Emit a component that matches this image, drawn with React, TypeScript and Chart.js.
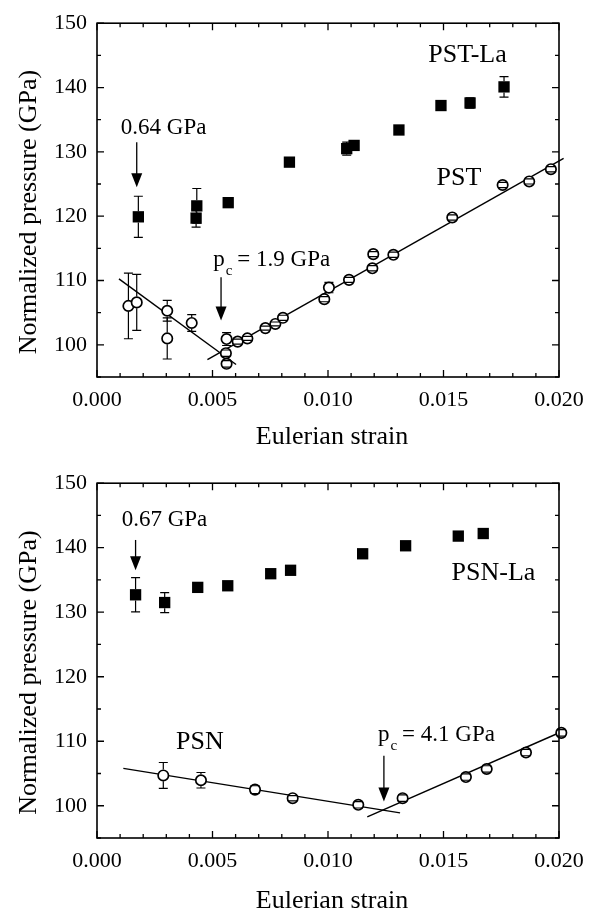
import React, { useEffect, useRef } from 'react';
import { Chart, registerables } from 'chart.js';

Chart.register(...registerables);

const FONT = '"Liberation Serif", "Times New Roman", Times, serif';

// ---- axes ----
const xMin = 0;
const xMax = 0.02;
const yMin = 95;
const yMax = 150;
const xTicks = [0, 0.005, 0.01, 0.015, 0.02];
const yTicks = [100, 110, 120, 130, 140, 150];
const xMinorStep = 0.001;
const yMinorStep = 5;
const xTitle = 'Eulerian strain';
const yTitle = 'Normalized pressure (GPa)';

// ---- top panel: PST-La (filled squares) ----
const pstLaX = [0.00179, 0.00429, 0.00432, 0.00568, 0.00833, 0.01081, 0.01113, 0.01307, 0.01489, 0.01615, 0.01762];
const pstLaY = [119.9, 119.7, 121.6, 122.1, 128.4, 130.5, 131.0, 133.4, 137.2, 137.6, 140.1];
const pstLaErr = [3.2, 1.4, 2.7, 0.5, 0.3, 1.0, 0.5, 0.6, 0.6, 0.8, 1.6];

// ---- top panel: PST (open circles) ----
const pstX = [0.00136, 0.00172, 0.00304, 0.00304, 0.0041, 0.00561, 0.00558, 0.00561, 0.00609, 0.00651, 0.00729, 0.00772, 0.00805, 0.00984, 0.01004, 0.01091, 0.01192, 0.01196, 0.01283, 0.01538, 0.01756, 0.01871, 0.01965];
const pstY = [106.05, 106.6, 105.3, 101.0, 103.4, 100.9, 98.7, 97.05, 100.5, 101.0, 102.6, 103.25, 104.2, 107.1, 108.9, 110.1, 111.9, 114.1, 114.0, 119.8, 124.85, 125.4, 127.3];
const pstErr = [5.1, 4.35, 1.6, 3.2, 1.3, 1.0, 0.5, 0.5, 0.4, 0.3, 0.3, 0.3, 0.4, 0.4, 0.8, 0.4, 0.4, 0.4, 0.4, 0.4, 0.4, 0.4, 0.4];

// ---- top panel fit lines ----
const pstFit1X = [0.00095, 0.00602];
const pstFit1Y = [110.26, 96.95];
const pstFit2X = [0.00478, 0.0202];
const pstFit2Y = [97.7, 129.0];

// ---- bottom panel: PSN-La (filled squares) ----
const psnLaX = [0.00167, 0.00293, 0.00436, 0.00566, 0.00752, 0.00838, 0.0115, 0.01336, 0.01564, 0.01672];
const psnLaY = [132.7, 131.5, 133.85, 134.1, 135.97, 136.5, 139.06, 140.3, 141.8, 142.2];
const psnLaErr = [2.65, 1.55, 0.7, 0.5, 0.3, 0.3, 0.3, 0.3, 0.3, 0.3];

// ---- bottom panel: PSN (open circles) ----
const psnX = [0.00287, 0.0045, 0.00684, 0.00847, 0.01131, 0.01323, 0.01597, 0.01687, 0.01857, 0.0201];
const psnY = [104.7, 103.95, 102.5, 101.17, 100.15, 101.17, 104.45, 105.7, 108.25, 111.3];
const psnErr = [2.0, 1.2, 0.6, 0.4, 0.5, 0.5, 0.5, 0.5, 0.5, 0.5];

// ---- bottom panel fit lines ----
const psnFit1X = [0.00114, 0.01312];
const psnFit1Y = [105.8, 98.9];
const psnFit2X = [0.0117, 0.02016];
const psnFit2Y = [98.28, 111.55];

type Txt = { text: string; x: number; y: number; size: number };
type Arrow = { x: number; y1: number; y2: number };
type Pc = { rest: string; x: number; y: number };
type Spec = {
  height: number;
  padTop: number;
  plotBottom: number;
  sqX: number[]; sqY: number[]; sqE: number[];
  ciX: number[]; ciY: number[]; ciE: number[];
  fits: [number[], number[]][];
  texts: Txt[];
  arrows: Arrow[];
  pc: Pc;
  xTitleOffset: number;
};

const topSpec: Spec = {
  height: 460,
  padTop: 16,
  plotBottom: 377,
  sqX: pstLaX, sqY: pstLaY, sqE: pstLaErr,
  ciX: pstX, ciY: pstY, ciE: pstErr,
  fits: [[pstFit1X, pstFit1Y], [pstFit2X, pstFit2Y]],
  texts: [
    { text: '0.64 GPa', x: 0.00103, y: 132.7, size: 23 },
    { text: 'PST-La', x: 0.01434, y: 143.9, size: 26 },
    { text: 'PST', x: 0.0147, y: 124.85, size: 26 },
  ],
  arrows: [
    { x: 0.00172, y1: 131.5, y2: 124.5 },
    { x: 0.00537, y1: 110.5, y2: 103.8 },
  ],
  pc: { rest: '= 1.9 GPa', x: 0.00503, y: 112.2 },
  xTitleOffset: 67,
};

const bottomSpec: Spec = {
  height: 453,
  padTop: 17,
  plotBottom: 378,
  sqX: psnLaX, sqY: psnLaY, sqE: psnLaErr,
  ciX: psnX, ciY: psnY, ciE: psnErr,
  fits: [[psnFit1X, psnFit1Y], [psnFit2X, psnFit2Y]],
  texts: [
    { text: '0.67 GPa', x: 0.00107, y: 143.36, size: 23 },
    { text: 'PSN-La', x: 0.01535, y: 134.95, size: 26 },
    { text: 'PSN', x: 0.00342, y: 108.77, size: 26 },
  ],
  arrows: [
    { x: 0.00167, y1: 141.2, y2: 136.5 },
    { x: 0.01242, y1: 107.75, y2: 100.65 },
  ],
  pc: { rest: '= 4.1 GPa', x: 0.01216, y: 110.03 },
  xTitleOffset: 70,
};

const pts = (xs: number[], ys: number[]) => xs.map((x, i) => ({ x, y: ys[i] }));

function makeDecor(spec: Spec) {
  return {
    id: 'decor',
    afterDatasetsDraw(chart: any) {
      const ctx: CanvasRenderingContext2D = chart.ctx;
      const xs = chart.scales.x;
      const ys = chart.scales.y;
      const ca = chart.chartArea;
      ctx.save();
      ctx.strokeStyle = '#000';
      ctx.fillStyle = '#000';

      // error bars (not through symbol)
      const drawErr = (X: number[], Y: number[], E: number[], r: number) => {
        ctx.lineWidth = 1.2;
        X.forEach((xv, i) => {
          const px = xs.getPixelForValue(xv);
          const py = ys.getPixelForValue(Y[i]);
          const top = ys.getPixelForValue(Y[i] + E[i]);
          const bot = ys.getPixelForValue(Y[i] - E[i]);
          ctx.beginPath();
          if (top < py - r) { ctx.moveTo(px, py - r); ctx.lineTo(px, top); }
          if (bot > py + r) { ctx.moveTo(px, py + r); ctx.lineTo(px, bot); }
          ctx.moveTo(px - 4.5, top); ctx.lineTo(px + 4.5, top);
          ctx.moveTo(px - 4.5, bot); ctx.lineTo(px + 4.5, bot);
          ctx.stroke();
        });
      };
      drawErr(spec.sqX, spec.sqY, spec.sqE, 5.6);
      drawErr(spec.ciX, spec.ciY, spec.ciE, 5.9);

      // frame
      ctx.lineWidth = 1.6;
      ctx.strokeRect(ca.left, ca.top, ca.right - ca.left, ca.bottom - ca.top);

      // inward ticks
      ctx.lineWidth = 1.3;
      ctx.beginPath();
      const nx = Math.round((xMax - xMin) / xMinorStep);
      for (let i = 0; i <= nx; i++) {
        const v = xMin + i * xMinorStep;
        const major = xTicks.some((t) => Math.abs(t - v) < 1e-9);
        const len = major ? 7 : 4;
        const px = xs.getPixelForValue(v);
        ctx.moveTo(px, ca.bottom); ctx.lineTo(px, ca.bottom - len);
        ctx.moveTo(px, ca.top); ctx.lineTo(px, ca.top + len);
      }
      const ny = Math.round((yMax - yMin) / yMinorStep);
      for (let i = 0; i <= ny; i++) {
        const v = yMin + i * yMinorStep;
        const major = yTicks.some((t) => Math.abs(t - v) < 1e-9);
        const len = major ? 7 : 4;
        const py = ys.getPixelForValue(v);
        ctx.moveTo(ca.left, py); ctx.lineTo(ca.left + len, py);
        ctx.moveTo(ca.right, py); ctx.lineTo(ca.right - len, py);
      }
      ctx.stroke();

      // arrows
      spec.arrows.forEach((a) => {
        const px = xs.getPixelForValue(a.x);
        const p1 = ys.getPixelForValue(a.y1);
        const p2 = ys.getPixelForValue(a.y2);
        ctx.lineWidth = 1.3;
        ctx.beginPath();
        ctx.moveTo(px, p1); ctx.lineTo(px, p2 - 12);
        ctx.stroke();
        ctx.beginPath();
        ctx.moveTo(px - 5.5, p2 - 14);
        ctx.lineTo(px + 5.5, p2 - 14);
        ctx.lineTo(px, p2);
        ctx.closePath();
        ctx.fill();
      });

      // text annotations
      ctx.textAlign = 'left';
      ctx.textBaseline = 'alphabetic';
      spec.texts.forEach((t) => {
        ctx.font = `${t.size}px ${FONT}`;
        ctx.fillText(t.text, xs.getPixelForValue(t.x), ys.getPixelForValue(t.y));
      });
      // p_c label
      const px = xs.getPixelForValue(spec.pc.x);
      const py = ys.getPixelForValue(spec.pc.y);
      ctx.font = `23px ${FONT}`;
      ctx.fillText('p', px, py);
      const wp = ctx.measureText('p').width;
      ctx.font = `15px ${FONT}`;
      ctx.fillText('c', px + wp + 1, py + 9);
      const wc = ctx.measureText('c').width;
      ctx.font = `23px ${FONT}`;
      ctx.fillText(spec.pc.rest, px + wp + wc + 6, py);

      // axis titles
      ctx.font = `26px ${FONT}`;
      ctx.textAlign = 'center';
      ctx.fillText(xTitle, (ca.left + ca.right) / 2 + 4, ca.bottom + spec.xTitleOffset);
      ctx.save();
      ctx.translate(36, (ca.top + ca.bottom) / 2 + 12);
      ctx.rotate(-Math.PI / 2);
      ctx.fillText(yTitle, 0, 0);
      ctx.restore();

      ctx.restore();
    },
  };
}

function Panel({ spec }: { spec: Spec }) {
  const ref = useRef<HTMLCanvasElement | null>(null);
  useEffect(() => {
    if (!ref.current) return;
    const datasets: any[] = [
      {
        label: 'circles',
        data: pts(spec.ciX, spec.ciY),
        pointStyle: 'circle',
        pointRadius: 5.2,
        backgroundColor: '#fff',
        borderColor: '#000',
        borderWidth: 1.7,
        showLine: false,
        clip: false,
        order: 1,
      },
      {
        label: 'squares',
        data: pts(spec.sqX, spec.sqY),
        pointStyle: 'rect',
        pointRadius: 8,
        backgroundColor: '#000',
        borderColor: '#000',
        borderWidth: 0,
        showLine: false,
        clip: false,
        order: 2,
      },
      ...spec.fits.map(([fx, fy], i) => ({
        label: 'fit' + i,
        data: pts(fx, fy),
        showLine: true,
        pointRadius: 0,
        borderColor: '#000',
        borderWidth: 1.4,
        fill: false,
        clip: false,
        order: 3,
      })),
    ];
    const chart = new Chart(ref.current, {
      type: 'scatter',
      data: { datasets },
      options: {
        responsive: false,
        animation: false,
        maintainAspectRatio: false,
        layout: { autoPadding: false, padding: { left: 0, top: spec.padTop, right: 37, bottom: 0 } },
        plugins: { legend: { display: false }, tooltip: { enabled: false } },
        scales: {
          x: {
            type: 'linear',
            min: xMin,
            max: xMax,
            grid: { display: false, drawTicks: false },
            border: { display: false },
            afterFit: (s: any) => { s.height = spec.height - spec.plotBottom; },
            afterBuildTicks: (s: any) => { s.ticks = xTicks.map((v) => ({ value: v })); },
            ticks: {
              padding: 10,
              color: '#000',
              maxRotation: 0,
              autoSkip: false,
              font: { family: FONT, size: 22 },
              callback: (v: any) => Number(v).toFixed(3),
            },
          },
          y: {
            type: 'linear',
            min: yMin,
            max: yMax,
            grid: { display: false, drawTicks: false },
            border: { display: false },
            afterFit: (s: any) => { s.width = 97; },
            afterBuildTicks: (s: any) => { s.ticks = yTicks.map((v) => ({ value: v })); },
            ticks: {
              padding: 10,
              color: '#000',
              autoSkip: false,
              font: { family: FONT, size: 22 },
              callback: (v: any) => String(v),
            },
          },
        },
      } as any,
      plugins: [makeDecor(spec)],
    });
    return () => chart.destroy();
  }, [spec]);
  return (
    <canvas
      ref={ref}
      width={596}
      height={spec.height}
      style={{ display: 'block', width: 596, height: spec.height }}
    />
  );
}

export default function App() {
  return (
    <div style={{ position: 'absolute', left: 0, top: 0, width: 596, height: 913, background: '#fff' }}>
      <Panel spec={topSpec} />
      <Panel spec={bottomSpec} />
    </div>
  );
}
